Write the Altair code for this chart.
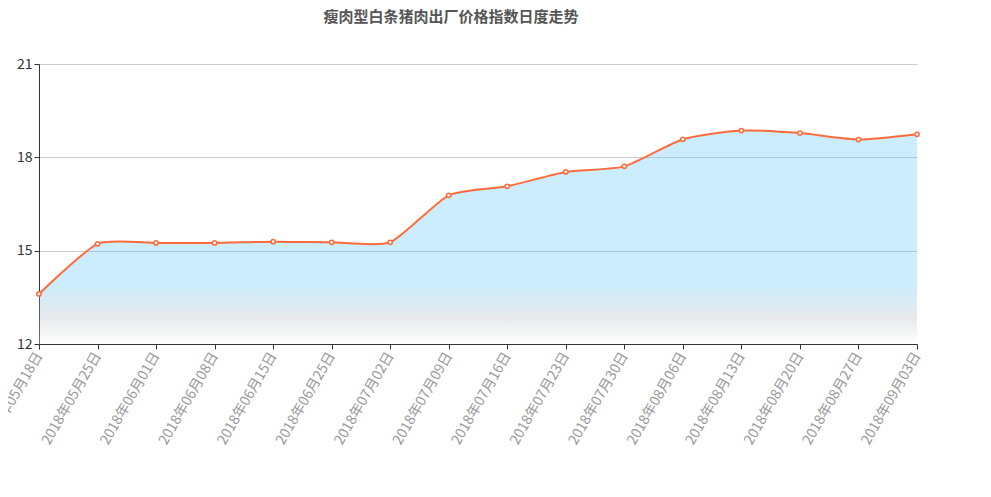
import altair as alt
import pandas as pd

dates = ["2018年05月18日", "2018年05月25日", "2018年06月01日", "2018年06月08日",
         "2018年06月15日", "2018年06月25日", "2018年07月02日", "2018年07月09日",
         "2018年07月16日", "2018年07月23日", "2018年07月30日", "2018年08月06日",
         "2018年08月13日", "2018年08月20日", "2018年08月27日", "2018年09月03日"]
values = [13.61, 15.22, 15.25, 15.25, 15.29, 15.27, 15.27, 16.78,
          17.07, 17.53, 17.71, 18.58, 18.86, 18.78, 18.57, 18.74]
y_ticks = [12, 15, 18, 21]
title = "瘦肉型白条猪肉出厂价格指数日度走势"

df = pd.DataFrame({"date": dates, "value": values})

x = alt.X("date:O", sort=dates, scale=alt.Scale(type="point", padding=0),
          axis=alt.Axis(title=None, labelAngle=-60, labelAlign="right", labelBaseline="middle",
                        labelColor="#999999", labelFontSize=14, labelFont="Noto Sans CJK SC",
                        domainColor="#333333", tickColor="#333333", tickSize=5, labelPadding=4,
                        grid=False))
y = alt.Y("value:Q", scale=alt.Scale(domain=[12, 21], zero=False, nice=False),
          axis=alt.Axis(title=None, values=y_ticks, labelColor="#333333", labelFontSize=14,
                        labelFont="Noto Sans CJK SC", domainColor="#333333", tickColor="#333333",
                        tickSize=5, gridColor="#cccccc", labelPadding=2))

base = alt.Chart(df)

area = base.mark_area(
    interpolate="cardinal", tension=0.4, fillOpacity=0.3,
    color=alt.Gradient(gradient="linear", x1=1, x2=1, y1=0, y2=1,
                       stops=[alt.GradientStop(color="#55C3F8", offset=0),
                              alt.GradientStop(color="#55C3F8", offset=0.72),
                              alt.GradientStop(color="#B2B9C0", offset=0.88),
                              alt.GradientStop(color="#ffffff", offset=1)])
).encode(x=x, y=y, y2=alt.datum(12))

line = base.mark_line(interpolate="cardinal", tension=0.4, color="#FF6B3B", strokeWidth=2).encode(x=x, y=y)
points = base.mark_point(filled=False, fill="white", fillOpacity=1, color="#FF6B3B",
                         strokeWidth=1.5, size=18, opacity=1).encode(x=x, y=y)

chart = alt.layer(area, line, points).properties(
    width=878, height=280,
    padding={"left": 31, "top": 56, "right": 50, "bottom": 130},
    autosize=alt.AutoSizeParams(type="none"),
    title=alt.TitleParams(title, fontSize=15, font="Noto Sans CJK SC", fontWeight="bold",
                          color="#555555", anchor="middle", dx=-27, offset=32)
).configure_view(stroke=None)

chart.save("out.html", embed_options={"renderer": "svg", "actions": False})
